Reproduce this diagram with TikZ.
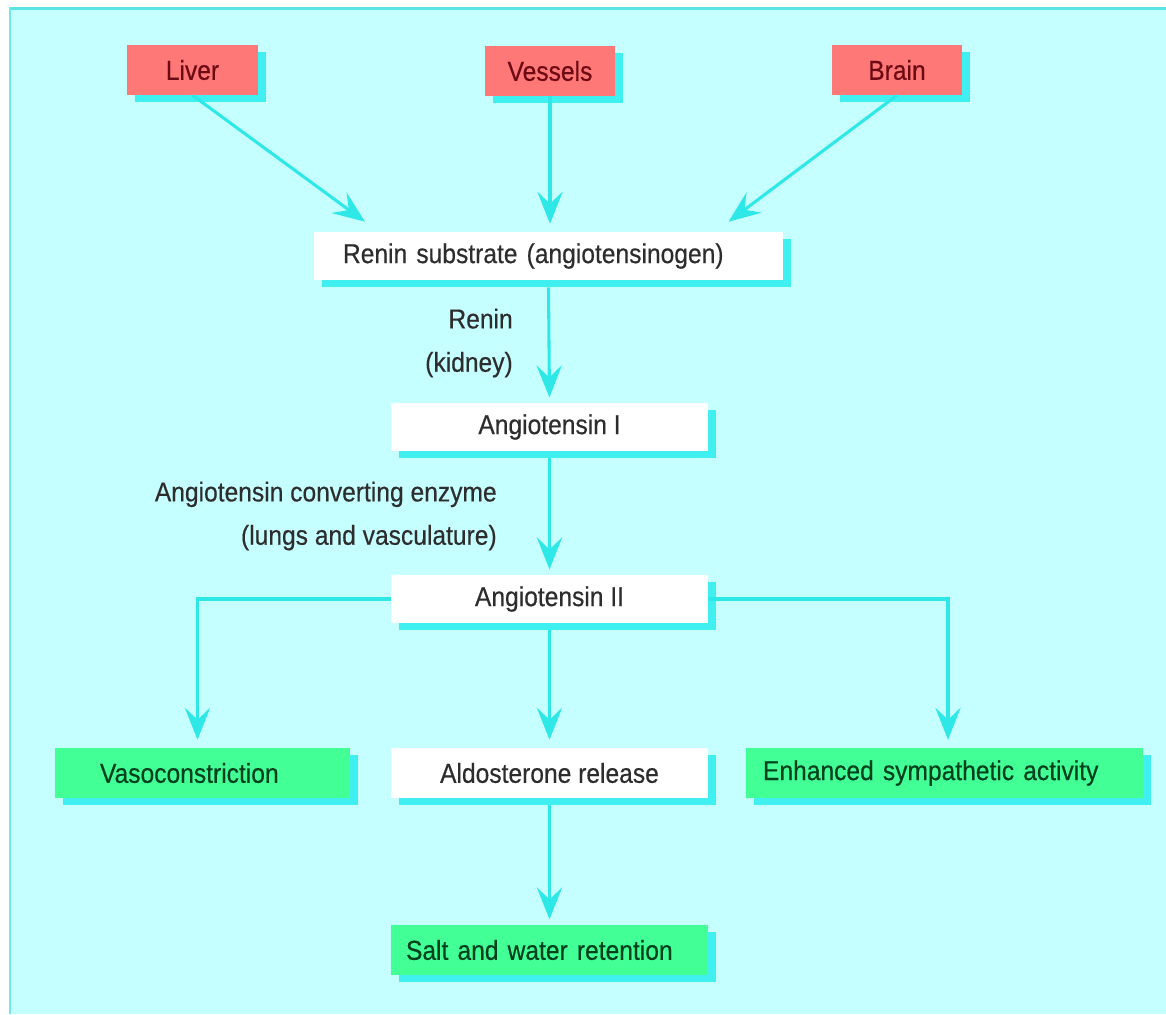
\documentclass[tikz,border=0pt]{standalone}
\usepackage{fontspec}
\setmainfont[FakeStretch=0.9,FakeBold=0.4]{Liberation Sans}
\usetikzlibrary{arrows.meta,shadows,calc}
\definecolor{bgc}{RGB}{198,255,255}
\definecolor{framec}{RGB}{90,228,228}
\definecolor{shc}{RGB}{64,240,240}
\definecolor{arrc}{RGB}{46,232,232}
\definecolor{redc}{RGB}{255,120,120}
\definecolor{redtext}{RGB}{110,10,20}
\definecolor{greenc}{RGB}{66,255,150}
\definecolor{greentext}{RGB}{0,64,28}
\definecolor{graytext}{RGB}{45,45,45}
\begin{document}
\begin{tikzpicture}[x=0.75pt,y=-0.75pt,
  boxbase/.style={rectangle, inner sep=0pt, font=\fontsize{20.5}{22}\selectfont,
    drop shadow={fill=shc, opacity=1, shadow xshift=6pt, shadow yshift=-5.5pt}},
  redbox/.style={boxbase, fill=redc, text=redtext, minimum width=98pt, minimum height=37.5pt},
  whitebox/.style={boxbase, fill=white, text=graytext, minimum height=36pt},
  greenbox/.style={boxbase, fill=greenc, text=greentext, minimum height=37.5pt},
  lbl/.style={text=graytext, font=\fontsize{20.5}{32.5}\selectfont, align=right, inner sep=0pt},
  conn/.style={draw=arrc, line width=2.3pt, -{Stealth[length=24pt, width=19pt, inset=9pt]}}
]
% background
\fill[white] (0,0) rectangle (1166,1014);
\fill[bgc] (9,7) rectangle (1166,1014);
\fill[framec] (9,7) rectangle (1166,10);
\fill[framec!80!bgc] (9,7) rectangle (11,1014);

% nodes
\node[redbox] (liver) at (192.5,70) {Liver};
\node[redbox] (vessels) at (550,71) {Vessels};
\node[redbox] (brain) at (897,70) {Brain};
\node[whitebox, text width=308.25pt, align=left, inner xsep=21.75pt] (sub) at (548.5,256) {Renin substrate (angiotensinogen)};
\node[whitebox, minimum width=237.75pt] (a1) at (549.5,427) {Angiotensin I};
\node[whitebox, minimum width=237.75pt] (a2) at (549.5,599) {Angiotensin II};
\node[greenbox, text width=153.75pt, align=left, inner xsep=33.75pt] (vaso) at (202.5,773) {Vasoconstriction};
\node[whitebox, minimum width=237.75pt, minimum height=37.5pt] (aldo) at (549.5,773) {Aldosterone release};
\node[greenbox, text width=272.25pt, align=left, inner xsep=12.75pt] (enh) at (944.5,773) {Enhanced sympathetic activity};
\node[greenbox, text width=215.25pt, align=left, inner xsep=11.25pt] (salt) at (549.5,950) {Salt and water retention};

\node[lbl, anchor=east] (renin) at (513,343) {Renin\\(kidney)};
\node[lbl, anchor=east] (ace) at (497,516) {Angiotensin converting enzyme\\(lungs and vasculature)};

% connectors
\coordinate (subL) at ($(sub.north)+(-183.5,-10)$);
\coordinate (subR) at ($(sub.north)+(180,-10)$);
\draw[conn] (liver.south) -- (subL);
\draw[conn, shorten >=6pt] (vessels.south) -- (vessels.south |- sub.north);
\draw[conn] (brain.south) -- (subR);
\draw[conn, shorten >=4pt] ($(sub.south)+(0,7)$) -- (a1.north);
\draw[conn, shorten >=4pt] ($(a1.south)+(0,7)$) -- (a2.north);
\draw[conn, shorten >=6pt] (a2.west) -| ($(vaso.north)+(-5,0)$);
\draw[conn, shorten >=6pt] (a2.east) -| ($(enh.north)+(3.5,0)$);
\draw[conn, shorten >=6pt] ($(a2.south)+(0,7)$) -- (aldo.north);
\draw[conn, shorten >=4pt] ($(aldo.south)+(0,7)$) -- (salt.north);
\end{tikzpicture}
\end{document}
